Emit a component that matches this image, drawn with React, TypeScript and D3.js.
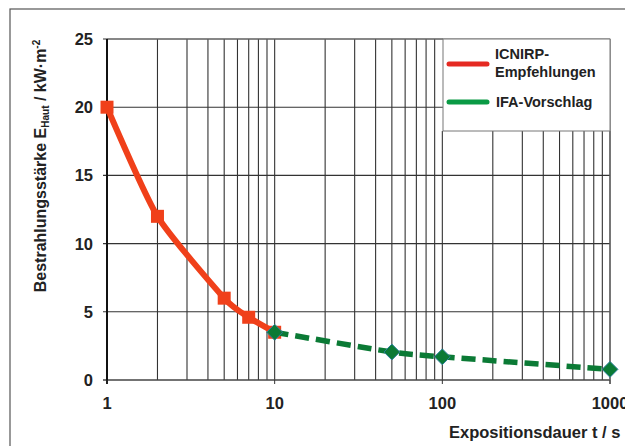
import React from "react";
import * as d3 from "d3";

const icnirpT = [1, 2, 5, 7, 10];
const icnirpE = [20, 12, 6, 4.6, 3.5];
const ifaT = [10, 50, 100, 1000];
const ifaE = [3.5, 2.05, 1.7, 0.78];
const yTicks = [0, 5, 10, 15, 20, 25];
const xTicks = [1, 10, 100, 1000];
const legendLabels = ["ICNIRP-", "Empfehlungen", "IFA-Vorschlag"];

export default function App() {
  const W = 625, H = 446;
  const x = d3.scaleLog().domain([1, 1000]).range([107, 610]);
  const y = d3.scaleLinear().domain([0, 25]).range([380, 39]);
  const gridX: number[] = [];
  for (let d = 1; d < 1000; d *= 10) for (let k = 1; k <= 10; k++) gridX.push(d * k);
  const uniqGridX = Array.from(new Set(gridX));
  const line = d3
    .line<[number, number]>()
    .x((d) => x(d[0]))
    .y((d) => y(d[1]))
    .curve(d3.curveCardinal.tension(0.4));
  const red = icnirpT.map((t, i) => [t, icnirpE[i]] as [number, number]);
  const green = ifaT.map((t, i) => [t, ifaE[i]] as [number, number]);
  const font = "'Liberation Sans', Arial, sans-serif";
  const lg = { x0: 443, y0: 39, x1: 610, y1: 131 };
  return (
    <svg width={W} height={H} style={{ position: "absolute", left: 0, top: 0, background: "#fff" }} fontFamily={font}>
      <rect x={10} y={9} width={700} height={500} fill="#fff" stroke="#555" strokeWidth={1.2} />
      {/* grid */}
      {uniqGridX.map((v) => {
        const inLegend = x(v) > lg.x0 - 1;
        return (
          <line key={"gx" + v} x1={x(v)} x2={x(v)} y1={inLegend ? lg.y1 : y(25)} y2={y(0)} stroke="#333" strokeWidth={1.1} />
        );
      })}
      {yTicks.map((v) => (
        <line key={"gy" + v} x1={x(1) - 4} x2={v > 15 ? lg.x0 : x(1000)} y1={y(v)} y2={y(v)} stroke={v === 0 ? "#444" : "#333"} strokeWidth={v === 0 ? 1.5 : 1.1} />
      ))}
      <line x1={x(1)} x2={x(1000)} y1={y(25)} y2={y(25)} stroke="#777" strokeWidth={1.2} />
      <line x1={x(1000)} x2={x(1000)} y1={y(25)} y2={y(0) + 4} stroke="#666" strokeWidth={1.2} />
      <line x1={x(1)} x2={x(1)} y1={y(25)} y2={y(0) + 4} stroke="#111" strokeWidth={2} />
      {xTicks.map((v) => (
        <line key={"xt" + v} x1={x(v)} x2={x(v)} y1={y(0)} y2={y(0) + 4} stroke="#333" strokeWidth={1} />
      ))}
      {/* legend */}
      <rect x={lg.x0} y={lg.y0} width={lg.x1 - lg.x0} height={lg.y1 - lg.y0} fill="#fff" stroke="#777" strokeWidth={1} />
      <line x1={449} x2={487} y1={64} y2={64} stroke="#e52a22" strokeWidth={5} strokeLinecap="round" />
      <line x1={449} x2={487} y1={102} y2={102} stroke="#0a9a45" strokeWidth={5} strokeLinecap="round" />
      <text x={495} y={59} fontSize={14.5} fontWeight="bold" fill="#222">{legendLabels[0]}</text>
      <text x={495} y={77} fontSize={14.5} fontWeight="bold" fill="#222">{legendLabels[1]}</text>
      <text x={496} y={107} fontSize={14.5} fontWeight="bold" fill="#222">{legendLabels[2]}</text>
      {/* series */}
      <path d={line(red) || ""} fill="none" stroke="#f0401a" strokeWidth={6} strokeLinejoin="round" />
      {red.map((d, i) => (
        <rect key={"r" + i} x={x(d[0]) - 6.5} y={y(d[1]) - 6.5} width={13} height={13} fill="#f0401a" />
      ))}
      <path d={line(green) || ""} fill="none" stroke="#0b7a35" strokeWidth={5.5} strokeDasharray="14 7" />
      {green.map((d, i) => (
        <path key={"g" + i} d={d3.symbol(d3.symbolDiamond2, 160)() || ""} transform={`translate(${x(d[0])},${y(d[1])})`} fill="#0b7a35" stroke="#2a7f9a" strokeWidth={1} />
      ))}
      {/* tick labels */}
      {yTicks.map((v) => (
        <text key={"yl" + v} x={93} y={y(v) + 6} textAnchor="end" fontSize={16.5} fontWeight="bold" fill="#222">{v}</text>
      ))}
      {xTicks.map((v) => (
        <text key={"xl" + v} x={x(v)} y={409} textAnchor="middle" fontSize={16.5} fontWeight="bold" fill="#222">{v}</text>
      ))}
      <text x={449} y={438} fontSize={16.5} fontWeight="bold" fill="#222">Expositionsdauer t / s</text>
      <text transform="translate(46,166) rotate(-90)" textAnchor="middle" fontSize={16} fontWeight="bold" fill="#222">
        Bestrahlungsstärke E<tspan fontSize={10} dy={3}>Haut</tspan><tspan dy={-3}> / kW·m</tspan><tspan fontSize={10} dy={-6}>-2</tspan>
      </text>
    </svg>
  );
}
